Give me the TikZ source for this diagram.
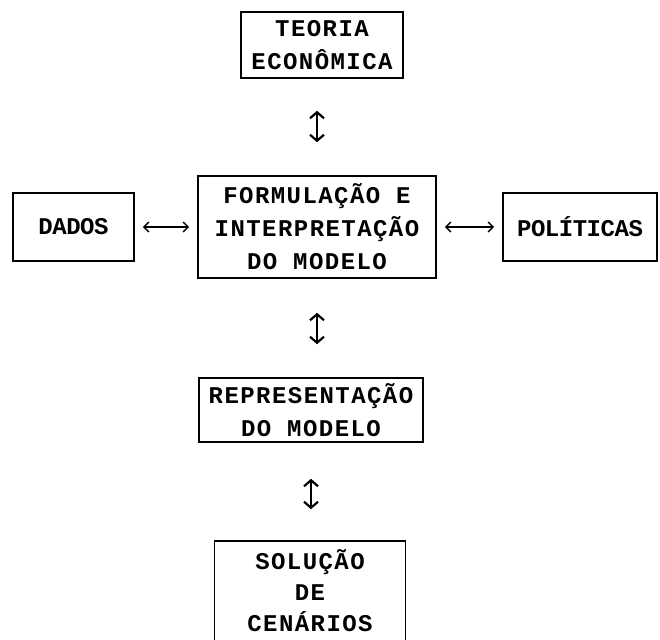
\documentclass[tikz,border=0pt]{standalone}
\usepackage{fontspec}
\usetikzlibrary{arrows.meta}
\newfontfamily\typefont{Liberation Mono}[LetterSpace=6]
\newfontfamily\tightfont{Liberation Mono}[LetterSpace=-2]

\begin{document}
\begin{tikzpicture}[x=1pt, y=-1pt,
    box/.style={draw, line width=1.6pt, align=center, inner sep=0pt,
      font=\typefont\bfseries\fontsize{24}{33}\selectfont},
    smallbox/.style={box, font=\tightfont\bfseries\fontsize{24}{33}\selectfont},
    vlink/.style={line width=2.2pt, {Straight Barb[length=6pt,width=14pt]}-{Straight Barb[length=6pt,width=14pt]}},
    hlink/.style={line width=1.4pt, {Straight Barb[length=5pt,width=10pt]}-{Straight Barb[length=5pt,width=10pt]},
      shorten <=8pt, shorten >=8pt}]
    \useasboundingbox (0,0) rectangle (660,639);
    % column of boxes
    \node[box, minimum width=162pt, minimum height=66pt] (teoria) at (322,45) {TEORIA\\ECONÔMICA};
    \node[box, minimum width=238pt, minimum height=102pt] (formul) at (317,227) {FORMULAÇÃO E\\INTERPRETAÇÃO\\DO MODELO};
    \node[box, minimum width=224pt, minimum height=64pt] (repres) at (311,410) {REPRESENTAÇÃO\\DO MODELO};
    \node[box, minimum width=191pt, minimum height=100pt,
      font=\typefont\bfseries\fontsize{24}{31}\selectfont] (solucao) at (310,591) {SOLUÇÃO\\DE\\CENÁRIOS};
    % side boxes
    \node[smallbox, minimum width=121pt, minimum height=68pt] (dados) at (73.5,227) {DADOS};
    \node[smallbox, minimum width=154pt, minimum height=68pt] (politicas) at (580,227) {POLÍTICAS};
    % links
    \draw[vlink, shorten <=32pt, shorten >=33pt] (formul.north |- teoria.south) -- (formul.north);
    \draw[vlink, shorten <=34pt, shorten >=33pt] (formul.south) -- (formul.south |- repres.north);
    \draw[vlink, shorten <=36pt, shorten >=31pt] (repres.south) -- (repres.south |- solucao.north);
    \draw[hlink] (dados) -- (formul);
    \draw[hlink] (formul) -- (politicas);
\end{tikzpicture}
\end{document}
